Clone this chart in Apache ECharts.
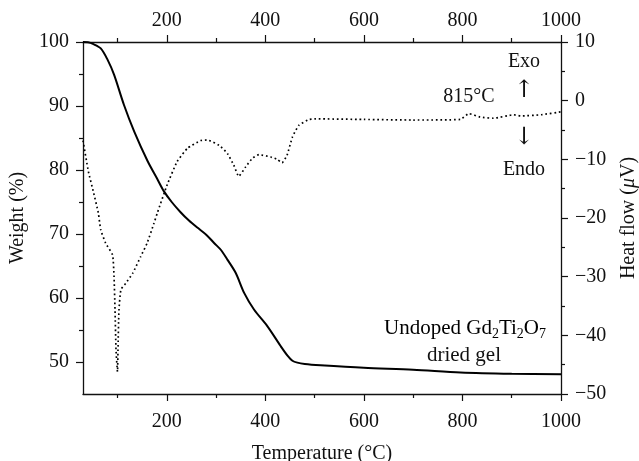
<!DOCTYPE html>
<html>
<head>
<meta charset="utf-8">
<script src="https://cdn.jsdelivr.net/npm/echarts@6/dist/echarts.min.js"></script>
<style>
  html, body { margin: 0; padding: 0; background: #fff; }
  #chart { width: 639px; height: 461px; }
</style>
</head>
<body>
<div id="chart"></div>
<script>
// TG curve (weight %, left axis)
const tgTemp = [30, 40, 50, 66, 80, 93, 113, 134, 161, 180, 194, 210, 228, 245, 262, 280, 296, 310, 323, 340, 357, 377, 404, 431, 445, 455, 465, 480, 512, 600, 700, 796, 900, 1000];
const tgWeight = [100, 99.95, 99.7, 99.0, 97.2, 94.9, 90.2, 86.0, 81.4, 78.7, 76.7, 75.0, 73.4, 72.1, 71.0, 69.9, 68.6, 67.5, 66.0, 63.9, 60.8, 58.2, 55.6, 52.5, 51.0, 50.2, 49.9, 49.7, 49.5, 49.1, 48.8, 48.35, 48.15, 48.1];

// DTA curve (heat flow uV, right axis)
const dtaTemp = [30, 41, 51, 61, 66, 76, 90, 93, 95, 97, 100, 101, 103, 107, 117, 131, 147, 160, 174, 181, 201, 221, 242, 269, 282, 306, 323, 336, 346, 360, 374, 387, 411, 424, 434, 444, 455, 468, 489, 502, 600, 700, 796, 813, 836, 863, 904, 918, 960, 1000];
const dtaHeat = [-6.8, -12.1, -15.5, -19.1, -22.0, -24.3, -26.3, -30.0, -35.7, -42.5, -46.2, -42.5, -35.7, -32.2, -31.1, -29.4, -26.6, -24.3, -20.9, -19.1, -14.3, -10.4, -8.1, -6.8, -6.7, -7.6, -9.0, -11.0, -12.9, -11.3, -9.8, -9.2, -9.6, -10.0, -10.6, -9.3, -6.2, -4.2, -3.2, -3.1, -3.2, -3.3, -3.2, -2.2, -2.8, -3.0, -2.4, -2.6, -2.4, -1.9];

// tick values
const xTicks = [200, 400, 600, 800, 1000];
const xMinorTicks = [100, 300, 500, 700, 900];
const weightTicks = [50, 60, 70, 80, 90, 100];
const weightMinorTicks = [55, 65, 75, 85, 95];
const heatTicks = [-50, -40, -30, -20, -10, 0, 10];
const heatMinorTicks = [-45, -35, -25, -15, -5, 5];

const FONT = '"Liberation Serif", "DejaVu Serif", serif';
const INK = '#111';
const FS = 20;

const chart = echarts.init(document.getElementById('chart'), null, { renderer: 'canvas' });

function majorAxis(extra) {
    return Object.assign({
        axisLine: { show: true, onZero: false, lineStyle: { color: INK, width: 1.3 } },
        splitLine: { show: false },
        nameTextStyle: { fontFamily: FONT, fontSize: FS, color: INK },
    }, extra);
}
function minorAxis(extra) {
    return Object.assign({
        axisLine: { show: false, onZero: false },
        axisLabel: { show: false },
        splitLine: { show: false },
    }, extra);
}
function ticks(values, len) {
    return { show: true, inside: false, length: len, customValues: values, lineStyle: { color: INK, width: 1.2 } };
}
const labelStyle = { fontFamily: FONT, fontSize: FS, color: INK };
const plainNum = v => (v < 0 ? '\u2212' + Math.abs(v) : String(v));

const option = {
    animation: false,
    backgroundColor: '#fff',
    grid: { left: 83, right: 78, top: 42, bottom: 67, containLabel: false, outerBoundsMode: 'none' },
    xAxis: [
        majorAxis({
            type: 'value', position: 'bottom', min: 30, max: 1000,
            axisTick: ticks(xTicks, 7),
            axisLabel: Object.assign({ margin: 18, customValues: xTicks, formatter: plainNum }, labelStyle),
            name: 'Temperature (°C)', nameLocation: 'middle', nameGap: 50,
        }),
        majorAxis({
            type: 'value', position: 'top', min: 30, max: 1000,
            axisTick: ticks(xTicks, 7),
            axisLabel: Object.assign({ margin: 11, customValues: xTicks, formatter: plainNum }, labelStyle),
        }),
        minorAxis({ type: 'value', position: 'bottom', min: 30, max: 1000, axisTick: ticks(xMinorTicks, 4) }),
        minorAxis({ type: 'value', position: 'top', min: 30, max: 1000, axisTick: ticks(xMinorTicks, 4) }),
    ],
    yAxis: [
        majorAxis({
            type: 'value', position: 'left', min: 45, max: 100,
            axisTick: ticks(weightTicks, 7),
            axisLabel: Object.assign({ margin: 14, customValues: weightTicks, formatter: plainNum }, labelStyle),
            name: 'Weight (%)', nameLocation: 'middle', nameGap: 45, nameRotate: 90,
        }),
        majorAxis({
            type: 'value', position: 'right', min: -50, max: 10,
            axisTick: ticks(heatTicks, 7),
            axisLabel: Object.assign({ margin: 14, customValues: heatTicks, formatter: plainNum }, labelStyle),
            name: 'Heat flow ({i|μ}V)', nameLocation: 'middle', nameGap: 58, nameRotate: 90,
            nameTextStyle: { fontFamily: FONT, fontSize: FS, color: INK, rich: { i: { fontFamily: FONT, fontSize: FS, fontStyle: 'italic', color: INK } } },
        }),
        minorAxis({ type: 'value', position: 'left', min: 45, max: 100, axisTick: ticks(weightMinorTicks, 4) }),
        minorAxis({ type: 'value', position: 'right', min: -50, max: 10, axisTick: ticks(heatMinorTicks, 4) }),
    ],
    series: [
        {
            name: 'TG', type: 'line', xAxisIndex: 0, yAxisIndex: 0,
            data: tgTemp.map((t, i) => [t, tgWeight[i]]),
            showSymbol: false, smooth: 0.3,
            lineStyle: { color: '#000', width: 2 },
        },
        {
            name: 'DTA', type: 'line', xAxisIndex: 0, yAxisIndex: 1,
            data: dtaTemp.map((t, i) => [t, dtaHeat[i]]),
            showSymbol: false, smooth: 0.15,
            lineStyle: { color: '#000', width: 1.7, type: [1.7, 2.8] },
        },
    ],
    graphic: [
        { type: 'text', x: 524, y: 62, style: { text: 'Exo', font: FS + 'px ' + FONT, fill: INK, align: 'center', verticalAlign: 'middle' } },
        { type: 'text', x: 524, y: 91, style: { text: '↑', font: '24px "DejaVu Serif", serif', fill: INK, align: 'center', verticalAlign: 'middle' } },
        { type: 'text', x: 469, y: 97, style: { text: '815°C', font: FS + 'px ' + FONT, fill: INK, align: 'center', verticalAlign: 'middle' } },
        { type: 'text', x: 524, y: 138, style: { text: '↓', font: '24px "DejaVu Serif", serif', fill: INK, align: 'center', verticalAlign: 'middle' } },
        { type: 'text', x: 524, y: 170, style: { text: 'Endo', font: FS + 'px ' + FONT, fill: INK, align: 'center', verticalAlign: 'middle' } },
        {
            type: 'text', x: 465, y: 328,
            style: {
                text: '{a|Undoped Gd}{s|2}{a|Ti}{s|2}{a|O}{s|7}',
                align: 'center', verticalAlign: 'middle',
                rich: {
                    a: { fontFamily: FONT, fontSize: 21, color: INK, lineHeight: 26 },
                    s: { fontFamily: FONT, fontSize: 14, color: INK, lineHeight: 13, verticalAlign: 'bottom' },
                },
            },
        },
        { type: 'text', x: 464, y: 355, style: { text: 'dried gel', font: '21px ' + FONT, fill: INK, align: 'center', verticalAlign: 'middle' } },
    ],
};

chart.setOption(option);
</script>
</body>
</html>
